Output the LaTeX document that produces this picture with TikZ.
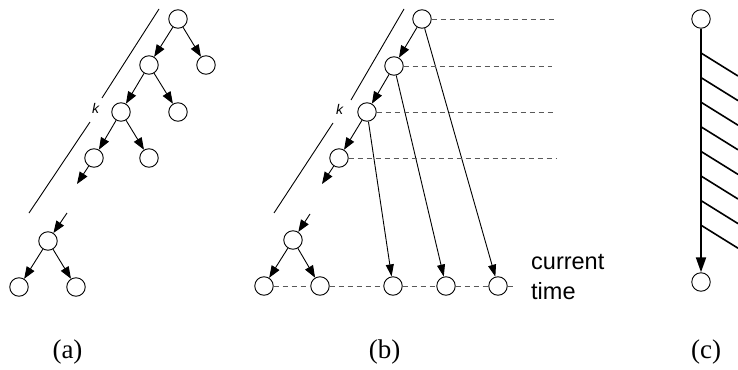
\documentclass[tikz,border=0pt]{standalone}
\usepackage{fontspec}
\setmainfont{Liberation Serif}
\newfontfamily\sansf{Liberation Sans}
\usetikzlibrary{arrows.meta}
\begin{document}
\begin{tikzpicture}[x=1pt,y=-1pt,
  nd/.style={circle,draw,line width=0.9pt,minimum size=18.5pt,inner sep=0pt},
  arr/.style={line width=0.9pt,-{Triangle[length=12pt,width=9pt]}},
  longarr/.style={line width=0.9pt,-{Triangle[length=12pt,width=8pt]}},
  dsh/.style={dashed,dash pattern=on 5pt off 4pt,line width=0.8pt,draw=black!65},
  kline/.style={line width=0.9pt},
  caplab/.style={font=\fontsize{27}{30}\selectfont},
  klab/.style={font=\sansf\itshape\fontsize{14}{16}\selectfont}]
\useasboundingbox (0,0) rectangle (738,369);
% ---------- (a) ----------
\node[nd] (a1) at (178,19) {};
\node[nd] (a1r) at (206,65) {};
\node[nd] (a2) at (149,65) {};
\node[nd] (a2r) at (178,112) {};
\node[nd] (a3) at (121,112) {};
\node[nd] (a3r) at (149,158) {};
\node[nd] (a4) at (94,158) {};
\coordinate (aStubEnd) at (77,184);
\coordinate (aStubStart) at (67,213);
\node[nd] (a5) at (48,241) {};
\node[nd] (a5l) at (19,287) {};
\node[nd] (a5r) at (76,287) {};
\draw[arr] (a1) -- (a2);
\draw[arr] (a1) -- (a1r);
\draw[arr] (a2) -- (a3);
\draw[arr] (a2) -- (a2r);
\draw[arr] (a3) -- (a4);
\draw[arr] (a3) -- (a3r);
\draw[arr] (a4) -- (aStubEnd);
\draw[arr] (aStubStart) -- (a5);
\draw[arr] (a5) -- (a5l);
\draw[arr] (a5) -- (a5r);
\coordinate (ak1) at (159,9);
\coordinate (ak2) at (102,98);
\coordinate (ak3) at (90,122);
\coordinate (ak4) at (29,213);
\draw[kline] (ak1) -- (ak2);
\draw[kline] (ak3) -- (ak4);
\node[klab] (ka) at (95.5,108) {k};
% ---------- (b) ----------
\node[nd] (b1) at (422,19) {};
\node[nd] (b2) at (394,66) {};
\node[nd] (b3) at (367,112) {};
\node[nd] (b4) at (339,158) {};
\coordinate (bStubEnd) at (322,184);
\coordinate (bStubStart) at (310,214);
\node[nd] (b5) at (293,240) {};
\node[nd] (b5l) at (264,286) {};
\node[nd] (b5r) at (320,286) {};
\node[nd] (c3) at (393,286) {};
\node[nd] (c2) at (446,286) {};
\node[nd] (c1) at (498,286) {};
\draw[arr] (b1) -- (b2);
\draw[arr] (b2) -- (b3);
\draw[arr] (b3) -- (b4);
\draw[arr] (b4) -- (bStubEnd);
\draw[arr] (bStubStart) -- (b5);
\draw[arr] (b5) -- (b5l);
\draw[arr] (b5) -- (b5r);
\draw[longarr] (b3) -- (c3);
\draw[longarr] (b2) -- (c2);
\draw[longarr] (b1) -- (c1);
\coordinate (d1) at (556,19);
\coordinate (d2) at (552,66);
\coordinate (d3) at (556,112);
\coordinate (d4) at (556,158);
\coordinate (d5) at (516,286);
\draw[dsh] (b1) -- (d1);
\draw[dsh] (b2) -- (d2);
\draw[dsh] (b3) -- (d3);
\draw[dsh] (b4) -- (d4);
\draw[dsh] (b5l) -- (b5r);
\draw[dsh] (b5r) -- (c3);
\draw[dsh] (c3) -- (c2);
\draw[dsh] (c2) -- (c1);
\draw[dsh] (c1) -- (d5);
\coordinate (bk1) at (404,9);
\coordinate (bk2) at (351,100);
\coordinate (bk3) at (333,123);
\coordinate (bk4) at (274,213);
\draw[kline] (bk1) -- (bk2);
\draw[kline] (bk3) -- (bk4);
\node[klab] (kb) at (339.5,109) {k};
\node[font=\sansf\fontsize{23.5}{30}\selectfont,anchor=north west,align=left,inner sep=0pt] (ct) at (531,254) {current\\time};
% ---------- (c) ----------
\node[nd] (t1) at (701,19) {};
\node[nd] (t2) at (701,282) {};
\draw[line width=2pt,-{Triangle[length=15pt,width=10pt]}] (t1) -- (t2);
\foreach \i in {0,...,7}{
  \coordinate (h\i) at (701,{53+24.6*\i});
  \draw[line width=1.6pt] (h\i) -- ++(37,23);
}
% ---------- captions ----------
\node[caplab] (la) at (67.5,352) {(a)};
\node[caplab] (lb) at (384.5,352) {(b)};
\node[caplab] (lc) at (706,352) {(c)};
\end{tikzpicture}
\end{document}
